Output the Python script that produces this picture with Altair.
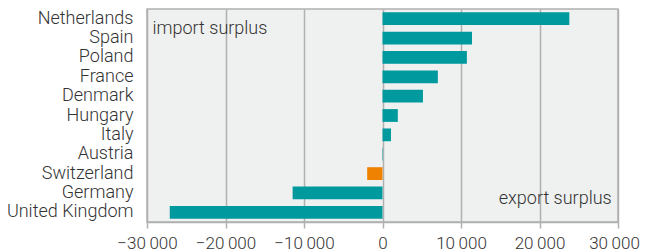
import altair as alt
import pandas as pd

countries = ["Netherlands", "Spain", "Poland", "France", "Denmark", "Hungary",
             "Italy", "Austria", "Switzerland", "Germany", "United Kingdom"]
values = [23800, 11400, 10750, 7050, 5150, 1950, 1080, 60, -1950, -11450, -27100]
groups = ["a", "a", "a", "a", "a", "a", "a", "a", "b", "a", "a"]
ticks = [-30000, -20000, -10000, 0, 10000, 20000, 30000]

df = pd.DataFrame({"country": countries, "value": values, "group": groups})

FONT = "Roboto"
TXT = "#333333"
GRID = "#b0b0b0"
FS = 18

base = alt.Chart(df)

bars = base.mark_bar().encode(
    y=alt.Y("country:N", sort=countries,
            scale=alt.Scale(paddingInner=0.34),
            axis=alt.Axis(title=None, ticks=False, domain=False, grid=False,
                          labelPadding=14, labelFontSize=FS, labelFont=FONT,
                          labelFontWeight=300, labelColor=TXT)),
    x=alt.X("value:Q", scale=alt.Scale(domain=[-30000, 30000], nice=False),
            axis=alt.Axis(title=None, values=ticks,
                          labelExpr="replace(format(datum.value, ','), ',', '\u2009')",
                          labelOverlap=False, labelFlush=False,
                          labelOffset={"condition": {"test": "datum.value == 30000", "value": -4},
                                       "value": 0},
                          grid=True, gridColor=GRID, gridWidth=1.5,
                          domainColor=GRID, domainWidth=1.5,
                          tickColor=GRID, tickWidth=1.5, tickSize=6,
                          labelPadding=7, labelFontSize=17, labelFont=FONT,
                          labelFontWeight=300, labelColor=TXT)),
    color=alt.Color("group:N", scale=alt.Scale(domain=["a", "b"], range=["#00999e", "#ef8200"]),
                    legend=None),
)

labels = pd.DataFrame({"txt": ["import surplus", "export surplus"],
                       "x": [-29300, 29200], "pos": ["top", "bottom"]})

t1 = alt.Chart(labels[labels.pos == "top"]).mark_text(
    align="left", baseline="middle", fontSize=FS, font=FONT, fontWeight=300, color=TXT
).encode(x="x:Q", y=alt.value(20), text="txt:N")

t2 = alt.Chart(labels[labels.pos == "bottom"]).mark_text(
    align="right", baseline="middle", fontSize=FS, font=FONT, fontWeight=300, color=TXT
).encode(x="x:Q", y=alt.value(190), text="txt:N")

chart = alt.layer(bars, t1, t2).properties(
    width=471, height=213,
    autosize=alt.AutoSizeParams(type="none"),
    padding={"left": 139, "top": 1, "right": 22, "bottom": 40},
).configure_view(
    fill="#eff0f0", stroke=GRID, strokeWidth=1.5
)

chart.save("out.html", embed_options={"renderer": "svg", "actions": False})
